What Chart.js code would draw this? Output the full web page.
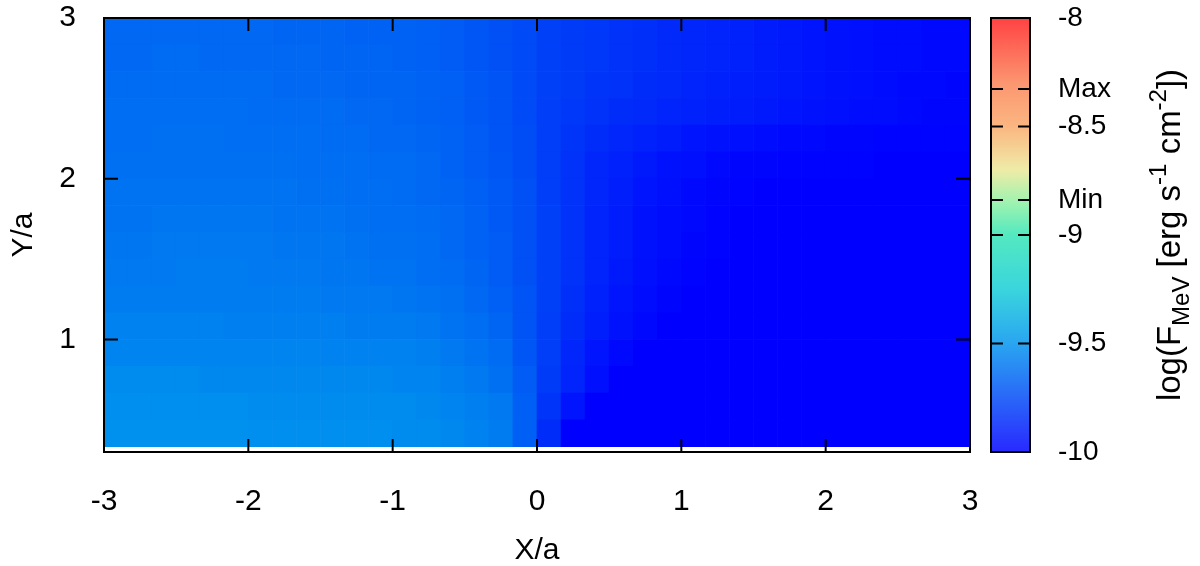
<!DOCTYPE html>
<html>
<head>
<meta charset="utf-8">
<script src="https://cdn.jsdelivr.net/npm/chart.js@4.4.0/dist/chart.umd.min.js"></script>
<style>
  html, body { margin: 0; padding: 0; background: #fff; }
  canvas { display: block; }
</style>
</head>
<body>
<canvas id="heat" width="1200" height="566"></canvas>
<script>
// column centres along X/a (36 columns, 1/6 wide)
const xCenters = [-2.9167, -2.75, -2.5833, -2.4167, -2.25, -2.0833, -1.9167, -1.75, -1.5833, -1.4167, -1.25, -1.0833,
  -0.9167, -0.75, -0.5833, -0.4167, -0.25, -0.0833, 0.0833, 0.25, 0.4167, 0.5833, 0.75, 0.9167,
  1.0833, 1.25, 1.4167, 1.5833, 1.75, 1.9167, 2.0833, 2.25, 2.4167, 2.5833, 2.75, 2.9167];

// row edges along Y/a (16 rows)
const yEdges = [0.3333, 0.5, 0.6667, 0.8333, 1, 1.1667, 1.3333, 1.5, 1.6667, 1.8333, 2, 2.1667, 2.3333, 2.5, 2.6667, 2.8333, 3];

// log(F_MeV) per cell, bottom row first
const row00 = [-9.51,-9.51,-9.51,-9.51,-9.51,-9.51,-9.52,-9.52,-9.52,-9.52,-9.52,-9.52,-9.53,-9.53,-9.54,-9.56,-9.58,-9.68,-9.85,-10,-10,-10,-10,-10,-10,-10,-10,-10,-10,-10,-10,-10,-10,-10,-10,-10];
const row01 = [-9.52,-9.52,-9.52,-9.52,-9.52,-9.52,-9.53,-9.53,-9.53,-9.53,-9.53,-9.53,-9.53,-9.54,-9.55,-9.57,-9.59,-9.68,-9.82,-9.93,-10,-10,-10,-10,-10,-10,-10,-10,-10,-10,-10,-10,-10,-10,-10,-10];
const row02 = [-9.53,-9.53,-9.53,-9.53,-9.54,-9.54,-9.54,-9.54,-9.54,-9.54,-9.54,-9.54,-9.55,-9.55,-9.57,-9.59,-9.62,-9.69,-9.80,-9.88,-9.95,-10,-10,-10,-10,-10,-10,-10,-10,-10,-10,-10,-10,-10,-10,-10];
const row03 = [-9.55,-9.55,-9.55,-9.55,-9.55,-9.55,-9.55,-9.55,-9.55,-9.56,-9.56,-9.56,-9.56,-9.57,-9.59,-9.61,-9.64,-9.71,-9.79,-9.87,-9.93,-9.97,-10,-10,-10,-10,-10,-10,-10,-10,-10,-10,-10,-10,-10,-10];
const row04 = [-9.56,-9.56,-9.56,-9.56,-9.56,-9.57,-9.57,-9.57,-9.57,-9.57,-9.58,-9.58,-9.58,-9.59,-9.61,-9.63,-9.66,-9.72,-9.79,-9.85,-9.90,-9.94,-9.97,-10,-10,-10,-10,-10,-10,-10,-10,-10,-10,-10,-10,-10];
const row05 = [-9.58,-9.58,-9.58,-9.58,-9.58,-9.58,-9.58,-9.58,-9.58,-9.59,-9.59,-9.59,-9.60,-9.61,-9.62,-9.65,-9.68,-9.72,-9.78,-9.84,-9.89,-9.93,-9.96,-9.98,-10,-10,-10,-10,-10,-10,-10,-10,-10,-10,-10,-10];
const row06 = [-9.59,-9.59,-9.59,-9.58,-9.58,-9.58,-9.59,-9.59,-9.59,-9.60,-9.60,-9.61,-9.61,-9.63,-9.64,-9.66,-9.69,-9.73,-9.78,-9.83,-9.88,-9.92,-9.95,-9.97,-9.99,-10,-10,-10,-10,-10,-10,-10,-10,-10,-10,-10];
const row07 = [-9.60,-9.60,-9.59,-9.59,-9.59,-9.59,-9.59,-9.60,-9.60,-9.60,-9.61,-9.62,-9.62,-9.63,-9.65,-9.67,-9.69,-9.73,-9.78,-9.83,-9.88,-9.91,-9.94,-9.96,-9.98,-9.99,-10,-10,-10,-10,-10,-10,-10,-10,-10,-10];
const row08 = [-9.61,-9.61,-9.60,-9.60,-9.60,-9.60,-9.60,-9.61,-9.61,-9.61,-9.62,-9.63,-9.63,-9.64,-9.65,-9.67,-9.70,-9.73,-9.78,-9.83,-9.88,-9.91,-9.94,-9.96,-9.97,-9.99,-10,-10,-10,-10,-10,-10,-10,-10,-10,-10];
const row09 = [-9.61,-9.61,-9.61,-9.61,-9.61,-9.61,-9.61,-9.61,-9.62,-9.62,-9.63,-9.63,-9.64,-9.65,-9.66,-9.68,-9.70,-9.73,-9.79,-9.83,-9.87,-9.90,-9.93,-9.95,-9.97,-9.98,-9.99,-10,-10,-10,-10,-10,-10,-10,-10,-10];
const row10 = [-9.62,-9.62,-9.62,-9.62,-9.62,-9.62,-9.62,-9.62,-9.63,-9.63,-9.63,-9.64,-9.64,-9.65,-9.67,-9.69,-9.71,-9.74,-9.79,-9.83,-9.87,-9.89,-9.92,-9.94,-9.95,-9.97,-9.98,-9.98,-9.99,-9.99,-9.99,-9.99,-10,-10,-10,-10];
const row11 = [-9.63,-9.63,-9.62,-9.62,-9.62,-9.63,-9.63,-9.63,-9.63,-9.64,-9.64,-9.65,-9.65,-9.66,-9.67,-9.69,-9.72,-9.74,-9.79,-9.82,-9.85,-9.87,-9.89,-9.91,-9.93,-9.94,-9.95,-9.96,-9.97,-9.97,-9.98,-9.98,-9.99,-9.99,-9.99,-9.99];
const row12 = [-9.63,-9.63,-9.63,-9.63,-9.63,-9.63,-9.64,-9.64,-9.64,-9.64,-9.65,-9.65,-9.66,-9.67,-9.68,-9.70,-9.72,-9.75,-9.79,-9.81,-9.83,-9.85,-9.86,-9.88,-9.89,-9.90,-9.91,-9.92,-9.93,-9.94,-9.95,-9.96,-9.96,-9.97,-9.98,-9.98];
const row13 = [-9.64,-9.64,-9.64,-9.64,-9.64,-9.64,-9.64,-9.65,-9.65,-9.65,-9.66,-9.66,-9.66,-9.67,-9.68,-9.70,-9.72,-9.75,-9.78,-9.80,-9.82,-9.83,-9.85,-9.86,-9.88,-9.89,-9.90,-9.91,-9.92,-9.93,-9.94,-9.95,-9.96,-9.97,-9.97,-9.98];
const row14 = [-9.65,-9.65,-9.64,-9.64,-9.65,-9.65,-9.65,-9.65,-9.65,-9.66,-9.66,-9.66,-9.67,-9.68,-9.69,-9.71,-9.73,-9.75,-9.78,-9.80,-9.81,-9.83,-9.84,-9.86,-9.87,-9.88,-9.89,-9.91,-9.92,-9.93,-9.94,-9.95,-9.96,-9.96,-9.97,-9.97];
const row15 = [-9.65,-9.65,-9.65,-9.65,-9.65,-9.65,-9.65,-9.66,-9.66,-9.66,-9.67,-9.67,-9.67,-9.68,-9.69,-9.71,-9.73,-9.75,-9.78,-9.80,-9.81,-9.83,-9.84,-9.86,-9.87,-9.88,-9.89,-9.91,-9.92,-9.93,-9.94,-9.95,-9.96,-9.96,-9.97,-9.97];
const rows = [row00, row01, row02, row03, row04, row05, row06, row07, row08, row09, row10, row11, row12, row13, row14, row15];

const xTicks = [-3, -2, -1, 0, 1, 2, 3];
const yTicks = [1, 2, 3];
const cbTicks = [-10, -9.5, -9, -8.839, -8.5, -8.327, -8];
const cbLabels = ['-10', '-9.5', '-9', 'Min', '-8.5', 'Max', '-8'];

// rainbow palette, value -> rgb
const cmap = [
  [-10, [0, 0, 255]],
  [-9.5, [0, 148, 238]],
  [-9.25, [20, 205, 215]],
  [-9.0, [50, 228, 180]],
  [-8.85, [140, 240, 160]],
  [-8.7, [235, 232, 150]],
  [-8.5, [250, 168, 105]],
  [-8.3, [250, 130, 85]],
  [-8.0, [255, 30, 30]],
];

function colorFor(v) {
  if (v <= cmap[0][0]) return `rgb(${cmap[0][1]})`;
  for (let i = 1; i < cmap.length; i++) {
    const [v1, c1] = cmap[i];
    if (v <= v1) {
      const [v0, c0] = cmap[i - 1];
      const t = (v - v0) / (v1 - v0);
      const c = c0.map((a, k) => Math.round(a + (c1[k] - a) * t));
      return `rgb(${c})`;
    }
  }
  return `rgb(${cmap[cmap.length - 1][1]})`;
}

Chart.defaults.font.family = '"Liberation Sans", Arial, Helvetica, sans-serif';
Chart.defaults.color = '#000';

const datasets = rows.map((vals, r) => ({
  data: vals.map((v, i) => ({ x: xCenters[i], y: [yEdges[r], yEdges[r + 1]] })),
  backgroundColor: vals.map(colorFor),
  borderWidth: 0,
  grouped: false,
  barPercentage: 1,
  categoryPercentage: 1,
}));

// keep the vertical axes from pushing the plot area down
const noVPad = s => { s.paddingTop = 0; s.paddingBottom = 0; };

// inward ticks, frame, colour bar and its title
const framePlugin = {
  id: 'frame',
  afterDraw(chart) {
    const { ctx, chartArea: a, scales } = chart;
    ctx.save();
    ctx.strokeStyle = '#000';
    ctx.lineWidth = 2;
    ctx.beginPath();
    xTicks.forEach(v => {
      const px = scales.x.getPixelForValue(v);
      ctx.moveTo(px, a.bottom); ctx.lineTo(px, a.bottom - 13);
      ctx.moveTo(px, a.top); ctx.lineTo(px, a.top + 13);
    });
    yTicks.forEach(v => {
      const py = scales.y.getPixelForValue(v);
      ctx.moveTo(a.left, py); ctx.lineTo(a.left + 14, py);
      ctx.moveTo(a.right, py); ctx.lineTo(a.right - 14, py);
    });
    ctx.stroke();
    ctx.strokeRect(a.left, a.top, a.width, a.height);

    // colour bar
    const cb = scales.cb;
    const l = a.right + 21, r = a.right + 60;
    const yLo = cb.getPixelForValue(cb.min), yHi = cb.getPixelForValue(cb.max);
    const grad = ctx.createLinearGradient(0, yLo, 0, yHi);
    cmap.forEach(([v, c]) => grad.addColorStop((v - cb.min) / (cb.max - cb.min), `rgb(${c})`));
    ctx.globalAlpha = 0.84;
    ctx.fillStyle = grad;
    ctx.fillRect(l, yHi, r - l, yLo - yHi);
    ctx.globalAlpha = 1;
    ctx.beginPath();
    cbTicks.forEach(v => {
      const py = cb.getPixelForValue(v);
      ctx.moveTo(l, py); ctx.lineTo(l + 12, py);
      ctx.moveTo(r, py); ctx.lineTo(r - 12, py);
    });
    ctx.stroke();
    ctx.strokeRect(l, yHi, r - l, yLo - yHi);

    // colour bar title, rotated, with sub/superscripts
    const fam = Chart.defaults.font.family;
    const parts = [
      ['log(F', 0, 33], ['MeV', 9, 24], [' [erg s', 0, 33], ['-1', -14, 24],
      [' cm', 0, 33], ['-2', -14, 24], ['])', 0, 33],
    ];
    let total = 0;
    parts.forEach(p => { ctx.font = `${p[2]}px ${fam}`; total += ctx.measureText(p[0]).width; });
    ctx.translate(a.right + 210, (a.top + a.bottom) / 2);
    ctx.rotate(-Math.PI / 2);
    ctx.fillStyle = '#000';
    ctx.textBaseline = 'alphabetic';
    let x = -total / 2;
    parts.forEach(p => {
      ctx.font = `${p[2]}px ${fam}`;
      ctx.fillText(p[0], x, p[1]);
      x += ctx.measureText(p[0]).width;
    });
    ctx.restore();
  }
};

new Chart(document.getElementById('heat'), {
  type: 'bar',
  data: { datasets },
  options: {
    responsive: false,
    animation: false,
    devicePixelRatio: 1,
    events: [],
    layout: { padding: { top: 18, left: 0, right: 0, bottom: 0 } },
    plugins: { legend: { display: false }, tooltip: { enabled: false } },
    scales: {
      x: {
        type: 'linear', min: -3, max: 3, offset: false,
        afterBuildTicks: s => { s.ticks = xTicks.map(value => ({ value })); },
        afterFit: s => { s.height = 114; },
        grid: { display: false, offset: false, drawTicks: false }, border: { display: false },
        ticks: { font: { size: 30 }, padding: 32, maxRotation: 0, autoSkip: false, callback: v => String(v) },
        title: { display: true, text: 'X/a', font: { size: 30 }, padding: { top: 0, bottom: -3 } },
      },
      y: {
        type: 'linear', position: 'left', min: 0.3, max: 3,
        afterBuildTicks: s => { s.ticks = yTicks.map(value => ({ value })); },
        afterFit: s => { s.width = 104; noVPad(s); },
        grid: { display: false, drawTicks: false }, border: { display: false },
        ticks: { font: { size: 30 }, padding: 28, callback: v => String(v) },
        title: { display: true, text: 'Y/a', font: { size: 30 }, padding: { top: 6, bottom: 0 } },
      },
      cb: {
        type: 'linear', position: 'right', min: -10, max: -8,
        afterBuildTicks: s => { s.ticks = cbTicks.map(value => ({ value })); },
        afterFit: s => { s.width = 230; noVPad(s); },
        grid: { display: false, drawTicks: false }, border: { display: false },
        ticks: { font: { size: 28 }, padding: 88, callback: (v, i) => cbLabels[i] },
      },
    },
  },
  plugins: [framePlugin],
});
</script>
</body>
</html>
